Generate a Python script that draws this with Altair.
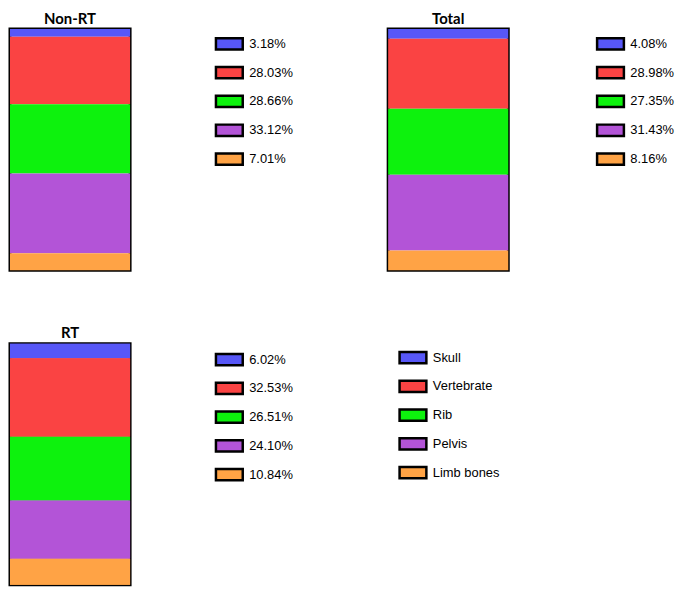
import altair as alt
import pandas as pd

categories = ["Skull", "Vertebrate", "Rib", "Pelvis", "Limb bones"]
colors = ["#5757F7", "#FA4343", "#0DF20D", "#B354D7", "#FFA345"]
nonrt_values = [3.18, 28.03, 28.66, 33.12, 7.01]
total_values = [4.08, 28.98, 27.35, 31.43, 8.16]
rt_values = [6.02, 32.53, 26.51, 24.10, 10.84]

W, H = 121, 243

def frame(group, values):
    n = len(categories)
    return pd.DataFrame({
        "group": [group] * n,
        "category": categories,
        "value": values,
        "label": [f"{v:.2f}%" for v in values],
        "stack": [n - 1 - i for i in range(n)],
    })

def legend(x, y):
    return alt.Legend(orient="none", legendX=x, legendY=y, title=None)

def bars(df, field, domain, lg):
    return alt.Chart(df).mark_bar().encode(
        x=alt.X("group:N", axis=None, scale=alt.Scale(paddingInner=0, paddingOuter=0)),
        y=alt.Y("value:Q", stack="zero", axis=None,
                scale=alt.Scale(domain=[0, 100], nice=False)),
        color=alt.Color(f"{field}:N", scale=alt.Scale(domain=domain, range=colors), legend=lg),
        order=alt.Order("stack:Q", sort="ascending"),
    )

def panel(group, values, lx, ly):
    df = frame(group, values)
    return bars(df, "label", df["label"].tolist(), legend(lx, ly)).properties(
        width=W, height=H, title=alt.Title(group))

nonrt = panel("Non-RT", nonrt_values, 206, 0)
total = panel("Total", total_values, 209, 0)

rt_df = frame("RT", rt_values)
rt = alt.layer(
    bars(rt_df, "category", categories, legend(391, -1)),
    bars(rt_df, "label", rt_df["label"].tolist(), legend(206, 1)),
    title=alt.Title("RT"),
).resolve_scale(color="independent").properties(width=W, height=H)

top = alt.hconcat(nonrt, total, spacing=260, bounds="flush").resolve_scale(color="independent")

chart = alt.vconcat(top, rt, spacing=52).resolve_scale(
    color="independent"
).properties(
    padding=0, background="white"
).configure_view(
    stroke="black", strokeWidth=3
).configure_title(
    font="Lato", fontSize=15, fontWeight="bold", color="black",
    anchor="middle", frame="group", offset=2
).configure_legend(
    symbolType="M-1,-0.42L1,-0.42L1,0.42L-1,0.42Z",
    symbolSize=729,
    symbolStrokeColor="black",
    symbolStrokeWidth=2.5,
    symbolOpacity=1,
    labelFont="Liberation Sans",
    labelFontSize=13,
    labelColor="black",
    labelOffset=5,
    rowPadding=3,
    padding=0,
)

chart.save("out.html", embed_options={"renderer": "svg", "actions": False})
